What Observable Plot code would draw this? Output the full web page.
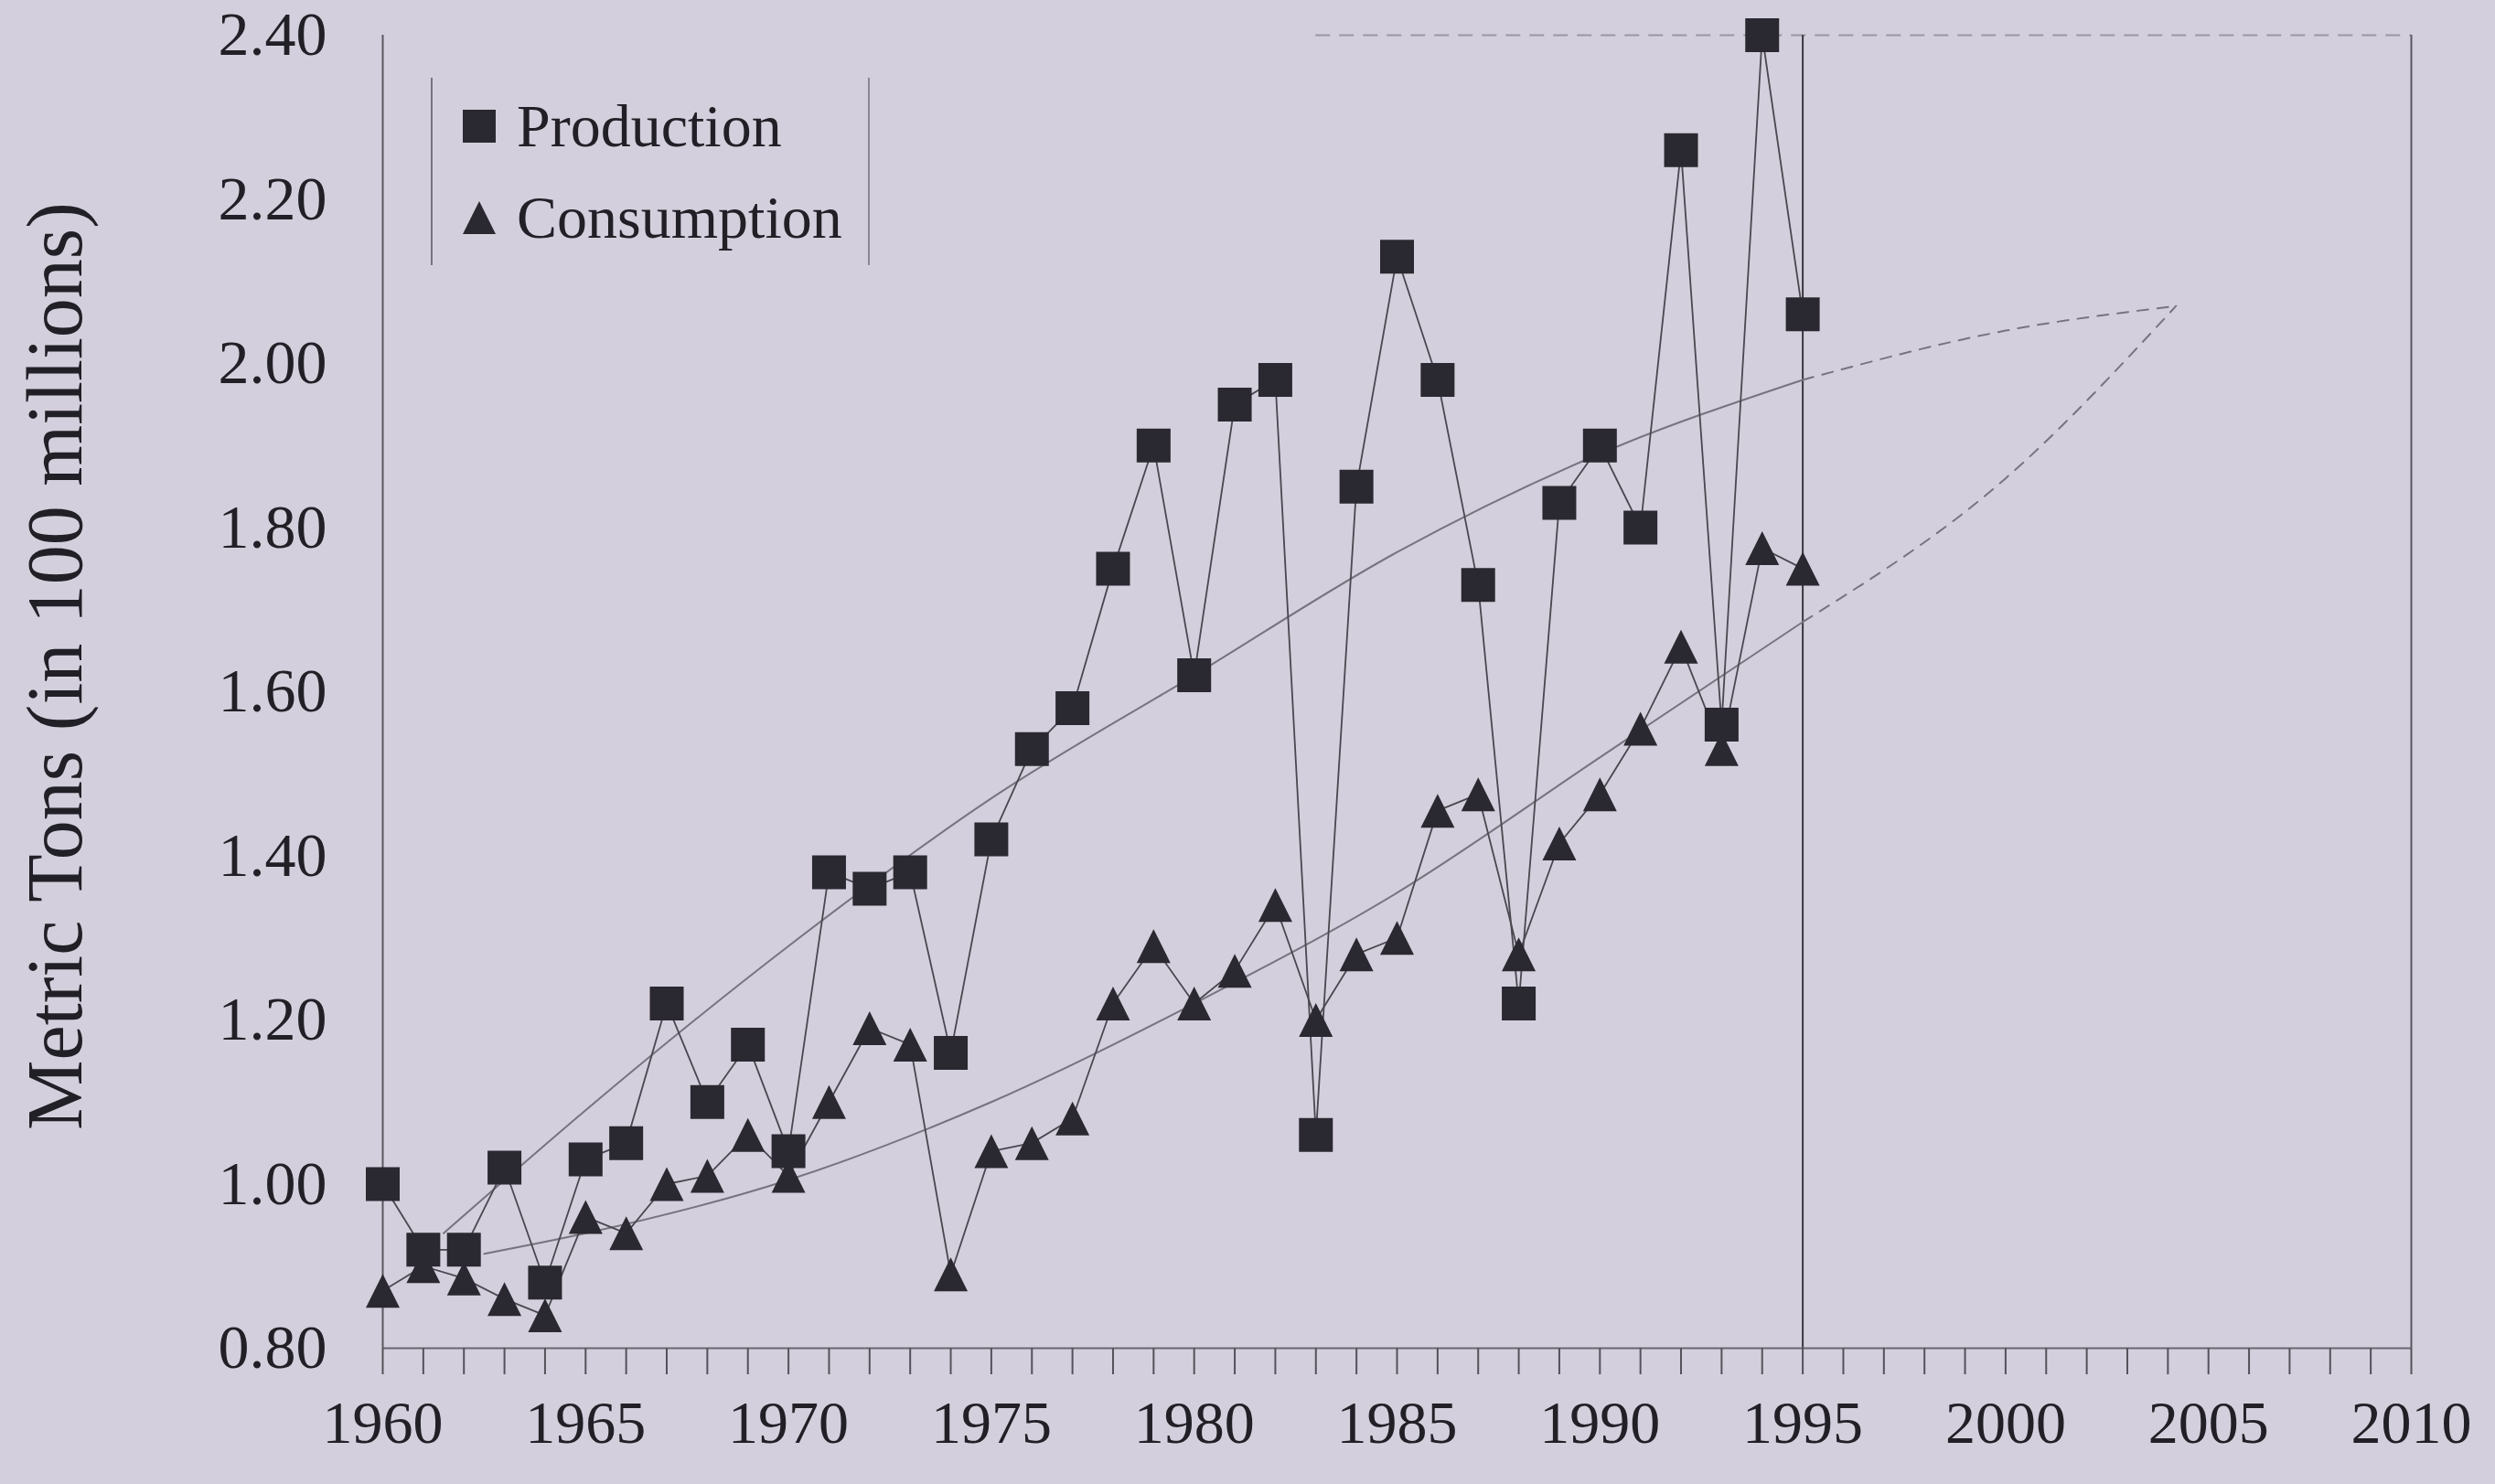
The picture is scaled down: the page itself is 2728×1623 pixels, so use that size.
<!DOCTYPE html>
<html>
<head>
<meta charset="utf-8">
<script src="https://cdn.jsdelivr.net/npm/d3@7"></script>
<script src="https://cdn.jsdelivr.net/npm/@observablehq/plot@0.6"></script>
<style>
  html, body { margin: 0; padding: 0; background: #d4cfdc; }
  #wrap { position: relative; width: 2728px; height: 1623px; background: #d4cfdc; overflow: hidden; }
  #legend {
    position: absolute; left: 471px; top: 85px; width: 476px; height: 205px;
    border-left: 2px solid #77737f; border-right: 2px solid #8a8692;
    font-family: "Liberation Serif", "Times New Roman", serif; font-size: 66px; color: #222027;
  }
  .item { position: absolute; left: 32px; display: flex; align-items: center; height: 70px; }
  .item svg { margin-right: 22px; }
</style>
</head>
<body>
<div id="wrap"></div>
<script>
// ---- data ----
const years = [1960,1961,1962,1963,1964,1965,1966,1967,1968,1969,1970,1971,1972,1973,1974,1975,1976,1977,
               1978,1979,1980,1981,1982,1983,1984,1985,1986,1987,1988,1989,1990,1991,1992,1993,1994,1995];
const production = [1.00,0.92,0.92,1.02,0.88,1.03,1.05,1.22,1.10,1.17,1.04,1.38,1.36,1.38,1.16,1.42,1.53,1.58,
                    1.75,1.90,1.62,1.95,1.98,1.06,1.85,2.13,1.98,1.73,1.22,1.83,1.90,1.80,2.26,1.56,2.40,2.06];
const consumption = [0.87,0.90,0.885,0.86,0.84,0.96,0.94,1.00,1.01,1.06,1.01,1.10,1.19,1.17,0.89,1.04,1.05,1.08,
                     1.22,1.29,1.22,1.26,1.34,1.20,1.28,1.30,1.455,1.475,1.28,1.415,1.475,1.555,1.655,1.53,1.775,1.75];

// trend curves
const prodTrendYears = [1961.5,1965,1970,1975,1980,1985,1990,1995];
const prodTrendVals  = [0.94,1.09,1.29,1.47,1.62,1.77,1.89,1.98];
const prodProjYears  = [1995,2000,2004.2];
const prodProjVals   = [1.98,2.04,2.07];
const consTrendYears = [1962.5,1965,1970,1975,1980,1985,1990,1995];
const consTrendVals  = [0.915,0.94,1.005,1.10,1.22,1.355,1.52,1.685];
const consProjYears  = [1995,2000,2004.2];
const consProjVals   = [1.685,1.86,2.07];

const yTicks = [0.80,1.00,1.20,1.40,1.60,1.80,2.00,2.20,2.40];
const xTickYears = d3.range(1960, 2011);
const xLabelYears = [1960,1965,1970,1975,1980,1985,1990,1995,2000,2005,2010];
const yTitle = "Metric Tons (in 100 millions)";
const seriesNames = ["Production", "Consumption"];
const projectionBoundary = 1995;
const topLineStart = 1983;

// ---- build tables ----
const rows = years.map((yr, i) => ({year: yr, production: production[i], consumption: consumption[i]}));
const toPts = (xs, vs) => xs.map((x, i) => ({year: x, v: vs[i]}));

// ---- styles ----
const INK = "#2a2830";
const LINE = "#4a4750";
const TREND = "#77737f";
const SQ = 37, TRI_W = 37, TRI_H = 37;
const squareSym = {draw(ctx) { const s = SQ / 2; ctx.moveTo(-s, -s); ctx.lineTo(s, -s); ctx.lineTo(s, s); ctx.lineTo(-s, s); ctx.closePath(); }};
const triSym = {draw(ctx) { const b = TRI_W / 2, h = TRI_H / 2; ctx.moveTo(0, -h); ctx.lineTo(b, h); ctx.lineTo(-b, h); ctx.closePath(); }};

const chart = Plot.plot({
  width: 2728, height: 1623,
  marginLeft: 418, marginRight: 92, marginTop: 38, marginBottom: 149,
  x: {domain: [1960, 2010], label: null},
  y: {domain: [0.8, 2.4], label: null},
  style: {background: "transparent", fontFamily: "'Liberation Serif', 'Times New Roman', serif", color: "#222027"},
  marks: [
    // frame
    Plot.ruleY([2.4], {x1: topLineStart, x2: 2010, stroke: "#9a96a2", strokeWidth: 2, strokeDasharray: "16,10"}),
    Plot.ruleX([2010], {stroke: "#5a5760", strokeWidth: 2}),
    Plot.ruleX([projectionBoundary], {stroke: "#3a3840", strokeWidth: 2}),
    Plot.ruleX([1960], {stroke: "#5a5760", strokeWidth: 2}),
    Plot.ruleY([0.8], {stroke: "#6a6670", strokeWidth: 2}),
    // axes
    Plot.axisX(xTickYears, {tickSize: 29, tickFormat: () => "", stroke: "#55525b", strokeWidth: 2, label: null}),
    Plot.axisX(xLabelYears, {tickSize: 0, tickPadding: 57, fontSize: 66, tickFormat: d => String(d), label: null}),
    Plot.axisY(yTicks, {tickSize: 0, tickPadding: 61, fontSize: 68, tickFormat: d => d.toFixed(2), label: null}),
    Plot.text([yTitle], {frameAnchor: "left", rotate: -90, dx: -357, dy: -28, fontSize: 86, textAnchor: "middle", fill: "#222027"}),
    // trends
    Plot.line(toPts(prodTrendYears, prodTrendVals), {x: "year", y: "v", curve: "monotone-x", stroke: TREND, strokeWidth: 2}),
    Plot.line(toPts(consTrendYears, consTrendVals), {x: "year", y: "v", curve: "monotone-x", stroke: TREND, strokeWidth: 2}),
    Plot.line(toPts(prodProjYears, prodProjVals), {x: "year", y: "v", curve: "monotone-x", stroke: TREND, strokeWidth: 2, strokeDasharray: "12,10"}),
    Plot.line(toPts(consProjYears, consProjVals), {x: "year", y: "v", curve: "monotone-x", stroke: TREND, strokeWidth: 2, strokeDasharray: "12,10"}),
    // series lines
    Plot.line(rows, {x: "year", y: "consumption", stroke: LINE, strokeWidth: 1.8}),
    Plot.line(rows, {x: "year", y: "production", stroke: LINE, strokeWidth: 1.8}),
    // markers
    Plot.dot(rows, {x: "year", y: "consumption", symbol: triSym, r: 10, fill: INK, stroke: "none"}),
    Plot.dot(rows, {x: "year", y: "production", symbol: squareSym, r: 10, fill: INK, stroke: "none"})
  ]
});

const wrap = document.getElementById("wrap");
wrap.appendChild(chart);

// legend
const legend = document.createElement("div");
legend.id = "legend";
const mk = (name, shape, top) => {
  const it = document.createElement("div");
  it.className = "item";
  it.style.top = top + "px";
  const s = shape === "square"
    ? `<svg width="38" height="38"><rect x="1" y="1" width="36" height="36" fill="${INK}"/></svg>`
    : `<svg width="38" height="38"><path d="M19,1 L37,37 L1,37 Z" fill="${INK}"/></svg>`;
  it.innerHTML = s + `<span>${name}</span>`;
  return it;
};
legend.appendChild(mk(seriesNames[0], "square", 18));
legend.appendChild(mk(seriesNames[1], "triangle", 118));
wrap.appendChild(legend);
</script>
</body>
</html>
